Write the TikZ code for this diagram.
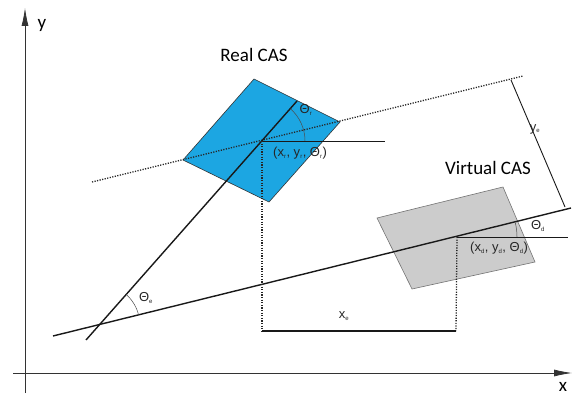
\documentclass[tikz,border=0pt]{standalone}
\usepackage{fontspec}
\setmainfont{Carlito}
\newfontfamily\labfont{Liberation Sans}
\usetikzlibrary{arrows.meta}
\definecolor{realblue}{RGB}{28,166,226}
\definecolor{virtgray}{RGB}{204,204,204}
\tikzset{
  axis/.style={draw=black!80,line width=0.8pt,-{Latex[length=18pt,width=7pt]}},
  casline/.style={draw=black!90,line width=1.4pt},
  thinline/.style={draw=black!90,line width=0.9pt},
  dotline/.style={draw=black!85,line width=1.3pt,dash pattern=on 1.2pt off 1.4pt},
  cas/.style={font=\fontsize{19}{22}\selectfont,inner sep=0pt},
  lab/.style={font=\labfont\fontsize{13}{15}\selectfont,inner sep=0pt,text=black!85}
}
\newcommand{\sub}[1]{\textsubscript{\fontsize{6}{7}\selectfont#1}}
\begin{document}
\begin{tikzpicture}[x=1pt,y=1pt]
\useasboundingbox (0,0) rectangle (572,396);
\pgfmathsetmacro{\angr}{48.6}
\pgfmathsetmacro{\angd}{13.8}
\coordinate (yb) at (25,3);
\coordinate (yt) at (25,388);
\coordinate (xl) at (13,23);
\coordinate (xr) at (572,23);
\draw[axis] (yb)--(yt);
\draw[axis] (xl)--(xr);
\node[cas] (ylab) at (42,371) {y};
\node[cas] (xlab) at (563,9) {x};
\coordinate (R) at (262,255);
\coordinate (V) at (457,159);
\filldraw[fill=realblue,draw=black!80,line width=0.6pt] (254,317)--(340,274)--(269,194)--(183,236)--cycle;
\filldraw[fill=virtgray,draw=black!55,line width=0.6pt] (377,178)--(503,209)--(535,134)--(412,107)--cycle;
\node[cas] (real) at (254,341) {Real CAS};
\node[cas] (virt) at (488,228) {Virtual CAS};
\coordinate (d1) at (92,214);
\coordinate (d2) at (523,320);
\draw[dotline] (d1)--(d2);
\coordinate (s1) at (86,56);
\coordinate (s2) at (297,295);
\coordinate (l1) at (53,60);
\coordinate (l2) at (571,188);
\draw[casline] (s1)--(s2);
\draw[casline] (l1)--(l2);
\coordinate (E) at (intersection of s1--s2 and l1--l2);
\coordinate (rh) at (385,255);
\coordinate (vh) at (568,159);
\draw[thinline] (R)--(rh);
\draw[thinline] (V)--(vh);
\draw[black!70,line width=0.5pt] (R) ++(43,0) arc[start angle=0,end angle=\angr,radius=43];
\draw[black!70,line width=0.5pt] (V) ++(60,0) arc[start angle=0,end angle=\angd,radius=60];
\draw[black!70,line width=0.5pt] (E) ++(\angd:40) arc[start angle=\angd,end angle=\angr,radius=40];
\coordinate (rb) at (262,65);
\coordinate (vb) at (456,65);
\draw[dotline] (R)--(rb);
\draw[dotline] (V)--(vb);
\draw[casline,line width=1.2pt] (rb)--(vb);
\coordinate (ye1) at (511,316);
\coordinate (ye2) at (565,189);
\draw[thinline] (ye1)--(ye2);
\node[lab] (thr) at (306,286) {Θ\sub{r}};
\node[lab,anchor=west] (posr) at (273,243) {(x\sub{r}, y\sub{r}, Θ\sub{r})};
\node[lab] (thd) at (538,170) {Θ\sub{d}};
\node[lab,anchor=west] (posd) at (470,148) {(x\sub{d}, y\sub{d}, Θ\sub{d})};
\node[lab] (the) at (146,98) {Θ\sub{e}};
\node[lab] (xe) at (344,80) {x\sub{e}};
\node[lab] (ye) at (535,267) {y\sub{e}};
\end{tikzpicture}
\end{document}
